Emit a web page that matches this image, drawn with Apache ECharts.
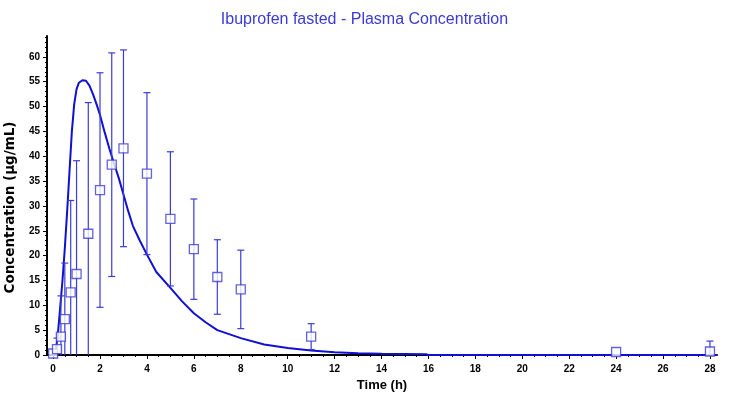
<!DOCTYPE html>
<html>
<head>
<meta charset="utf-8">
<script src="https://cdn.jsdelivr.net/npm/echarts@6/dist/echarts.min.js"></script>
<style>html,body{margin:0;padding:0;background:#fff}#c{width:729px;height:404px}</style>
</head>
<body>
<div id="c"></div>
<script>
// Observed data (time in h, concentration in µg/mL)
const obsTime = [0, 0.167, 0.333, 0.5, 0.75, 1, 1.5, 2, 2.5, 3, 4, 5, 6, 7, 8, 11, 24, 28];
const obsMean = [0.3, 1.2, 3.7, 7.2, 12.6, 16.3, 24.4, 33.2, 38.3, 41.6, 36.5, 27.4, 21.3, 15.7, 13.2, 3.7, 0.6, 0.7];
const obsSD   = [0, 2.2, 8.2, 11.3, 18.5, 22.8, 26.4, 23.6, 22.5, 19.8, 16.3, 13.5, 10.1, 7.5, 7.9, 2.6, 0, 2.1];

// Model-predicted curve
const curveTime = [0, 0.09, 0.2, 0.3, 0.4, 0.5, 0.6, 0.7, 0.8, 0.9, 1.0, 1.1, 1.25, 1.4, 1.55, 1.7, 1.85, 2.0, 2.2, 2.4, 2.6, 2.8, 3.0, 3.2, 3.4, 3.7, 4.0, 4.4, 5.0, 5.5, 6.0, 6.5, 7.0, 8.0, 9.0, 10.0, 11.0, 12.0, 13.0, 14.0, 15.9, 16.0, 28.3];
const curveConc = [0, 0, 4, 9.5, 15, 21.5, 29, 37, 45, 50.5, 53.5, 54.8, 55.3, 55.2, 54.2, 52.5, 50.5, 48.3, 44.8, 41.5, 38.5, 35.6, 32.3, 29, 26, 23, 20.2, 16.7, 13.5, 10.8, 8.4, 6.6, 5.0, 3.4, 2.1, 1.4, 0.9, 0.55, 0.35, 0.25, 0.15, 0, 0];

// Tick labels
const xTicks = [0, 2, 4, 6, 8, 10, 12, 14, 16, 18, 20, 22, 24, 26, 28];
const yTicks = [0, 5, 10, 15, 20, 25, 30, 35, 40, 45, 50, 55, 60];
const xMinor = []; for (let v = 0; v <= 28; v += 0.5) xMinor.push(v);
const yMinor = []; for (let v = 0; v <= 64; v += 1) yMinor.push(v);

const titleText = 'Ibuprofen fasted - Plasma Concentration';
const xName = 'Time (h)';
const yName = 'Concentration (µg/mL)';

const markColor = '#3c3cd4';
const curveColor = '#1010d2';
const labelStyle = { color: '#000', fontWeight: 'bold', fontSize: 10, fontFamily: 'Liberation Sans' };

const chart = echarts.init(document.getElementById('c'), null, { renderer: 'canvas' });
chart.setOption({
  animation: false,
  backgroundColor: '#fff',
  title: {
    text: titleText, left: 'center', top: 7,
    textStyle: { color: '#3a3ad8', fontSize: 16, fontWeight: 'normal', fontFamily: 'Liberation Sans' }
  },
  grid: { left: 47, right: 12, top: 36, bottom: 49, containLabel: false, outerBoundsMode: 'none' },
  xAxis: [{
    type: 'value', min: -0.26, max: 28.3, position: 'bottom',
    name: xName, nameLocation: 'middle', nameGap: 21,
    nameTextStyle: { color: '#000', fontWeight: 'bold', fontSize: 13, fontFamily: 'Liberation Sans' },
    axisLine: { show: true, onZero: false, lineStyle: { color: '#000', width: 2 } },
    axisTick: { show: true, customValues: xTicks, length: 4, lineStyle: { color: '#000', width: 1 } },
    axisLabel: Object.assign({ customValues: xTicks, margin: 9 }, labelStyle),
    splitLine: { show: false }
  }, {
    type: 'value', min: -0.26, max: 28.3, position: 'bottom',
    axisLine: { show: false, onZero: false },
    axisTick: { show: true, customValues: xMinor, length: 2, lineStyle: { color: '#000', width: 1 } },
    axisLabel: { show: false },
    splitLine: { show: false }
  }],
  yAxis: [{
    type: 'value', min: 0, max: 64.2, position: 'left',
    name: yName, nameLocation: 'middle', nameGap: 23, nameRotate: 90,
    nameTextStyle: { color: '#000', fontWeight: 'bold', fontSize: 13.5, fontFamily: 'DejaVu Sans', padding: [0, 24, 0, 0] },
    axisLine: { show: true, onZero: false, lineStyle: { color: '#000', width: 2 } },
    axisTick: { show: true, customValues: yTicks, length: 4, lineStyle: { color: '#000', width: 1 } },
    axisLabel: Object.assign({ customValues: yTicks, margin: 7 }, labelStyle),
    splitLine: { show: false }
  }, {
    type: 'value', min: 0, max: 64.2, position: 'left',
    axisLine: { show: false, onZero: false },
    axisTick: { show: true, customValues: yMinor, length: 2, lineStyle: { color: '#000', width: 1 } },
    axisLabel: { show: false },
    splitLine: { show: false }
  }],
  series: [{
    type: 'line', name: 'Predicted', xAxisIndex: 0, yAxisIndex: 0,
    data: curveTime.map((t, i) => [t, curveConc[i]]),
    showSymbol: false, symbol: 'none', smooth: false, clip: true, z: 2,
    lineStyle: { color: curveColor, width: 2 }
  }, {
    type: 'custom', name: 'SD', xAxisIndex: 0, yAxisIndex: 0, clip: true, z: 3,
    data: obsTime.map((t, i) => [t, obsMean[i] - obsSD[i], obsMean[i] + obsSD[i], obsSD[i]]),
    encode: { x: 0, y: [1, 2] },
    renderItem: function (params, api) {
      if (api.value(3) <= 0) return null;
      const lo = api.coord([api.value(0), api.value(1)]);
      const hi = api.coord([api.value(0), api.value(2)]);
      const hw = 3.5;
      const st = { stroke: markColor, lineWidth: 1.2 };
      return {
        type: 'group',
        children: [
          { type: 'line', shape: { x1: hi[0], y1: hi[1], x2: lo[0], y2: lo[1] }, style: st },
          { type: 'line', shape: { x1: hi[0] - hw, y1: hi[1], x2: hi[0] + hw, y2: hi[1] }, style: st },
          { type: 'line', shape: { x1: lo[0] - hw, y1: lo[1], x2: lo[0] + hw, y2: lo[1] }, style: st }
        ]
      };
    }
  }, {
    type: 'scatter', name: 'Observed', xAxisIndex: 0, yAxisIndex: 0, z: 4,
    data: obsTime.map((t, i) => [t, obsMean[i]]),
    symbol: 'rect', symbolSize: 9,
    itemStyle: { color: '#fff', borderColor: markColor, borderWidth: 1.3 }
  }]
});
</script>
</body>
</html>
